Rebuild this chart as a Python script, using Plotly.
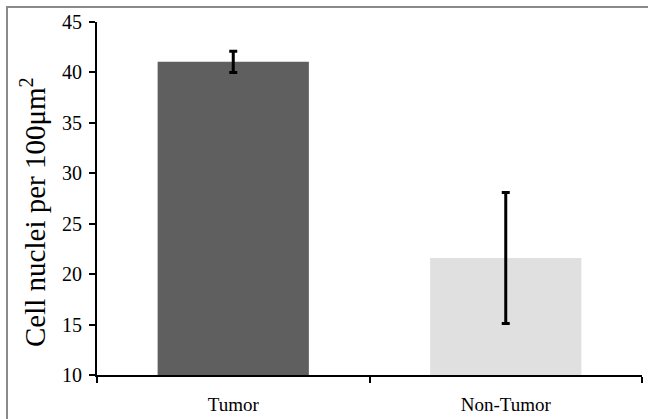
import plotly.graph_objects as go

categories = ["Tumor", "Non-Tumor"]
values = [41.05, 21.6]
errors = [1.05, 6.5]
colors = ["#5f5f5f", "#e0e0e0"]
y_ticks = [10, 15, 20, 25, 30, 35, 40, 45]
y_title = "Cell nuclei per 100μm<sup>2</sup>"

fig = go.Figure()
fig.add_trace(go.Bar(
    x=categories, y=values,
    marker=dict(color=colors, line=dict(width=0)),
    error_y=dict(type="data", array=errors, visible=True, color="black", thickness=3, width=4),
    width=0.555,
))

font_fam = "Liberation Serif, Times New Roman, serif"
fig.update_layout(
    width=648, height=419,
    margin=dict(l=97, r=6, t=22, b=44),
    paper_bgcolor="white", plot_bgcolor="white",
    showlegend=False,
    font=dict(family=font_fam, color="black"),
    xaxis=dict(
        showline=True, linecolor="black", linewidth=2,
        ticks="outside", tickson="boundaries", ticklen=6, tickwidth=2, tickcolor="black",
        tickfont=dict(size=19, family=font_fam), ticklabelstandoff=11,
        showgrid=False, zeroline=False, automargin=False,
    ),
    yaxis=dict(
        range=[10, 45], tickvals=y_ticks,
        showline=True, linecolor="black", linewidth=2,
        ticks="outside", ticklen=6, tickwidth=2, tickcolor="black",
        tickfont=dict(size=20, family=font_fam), ticklabelstandoff=3,
        showgrid=False, zeroline=False, automargin=False,
    ),
)

fig.add_annotation(text=y_title, xref="paper", yref="paper",
                   x=(33 - 97) / 545, y=(375 - 212) / 353, textangle=-90,
                   showarrow=False, xanchor="center", yanchor="middle",
                   font=dict(size=29, family=font_fam, color="black"))

# outer grey frame
fig.add_shape(type="rect", xref="paper", yref="paper",
              x0=(7 - 97) / 545, x1=1.05, y0=-0.3, y1=(375 - 7) / 353,
              line=dict(color="#8a8a8a", width=2), fillcolor="rgba(0,0,0,0)", layer="below")

fig.write_html("out.html", config={"displayModeBar": False},
               post_script="document.body.style.margin='0';")
